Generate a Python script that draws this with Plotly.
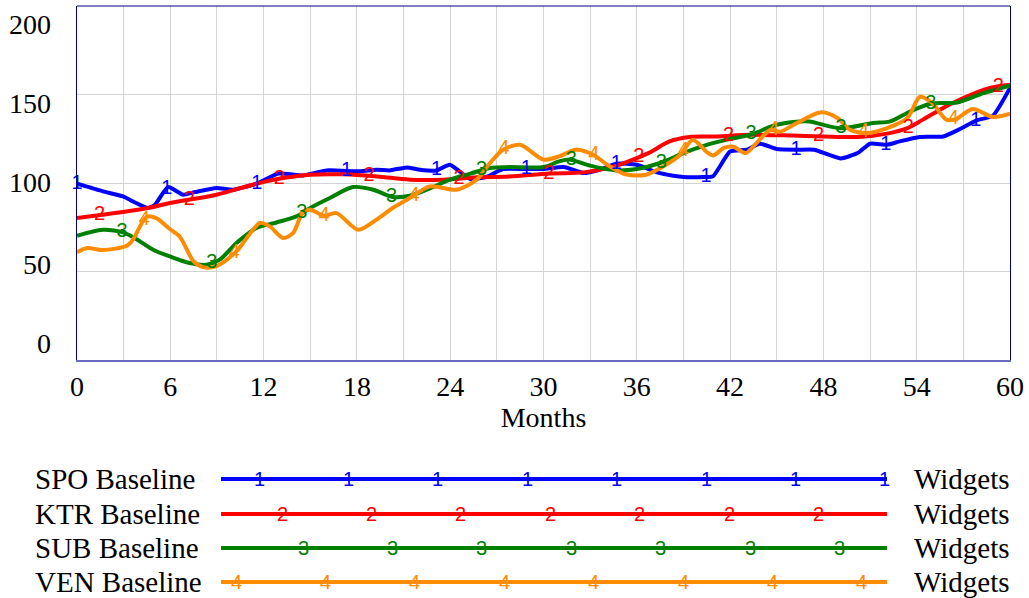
import numpy as np
import plotly.graph_objects as go

# ---------------- data ----------------
spo_months = [0, 1.67, 2.96, 3.8, 4.57, 5.0, 5.86, 6.82, 7.6, 8.97, 10.04, 11.54, 12.94, 14.55,
              16.05, 18.19, 19.26, 20.1, 21.2, 22.05, 23.1, 23.98, 24.6, 25.27, 26.3, 27.4, 28.9,
              30.0, 31.3, 32.6, 33.6, 34.7, 36.0, 37.3, 38.35, 39.0, 40.3, 40.9, 42.0, 43.07,
              43.9, 45.0, 46.3, 47.4, 49.1, 50.2, 51.0, 52.1, 52.9, 54.2, 55.7, 56.6, 57.85, 58.9, 60]
spo_values = [99.6, 95.3, 92.4, 88.7, 85.9, 87.6, 97.7, 93.4, 94.9, 97.2, 96.2, 99.6, 105.3, 104.3,
              107.1, 106.6, 107.5, 107.1, 108.8, 107.5, 107.1, 110.3, 106.6, 102.3, 103.4, 107.9, 107.9,
              107.9, 109.0, 105.6, 107.5, 110.9, 110.3, 106.0, 104.1, 103.4, 103.4, 103.8, 117.8, 118.8,
              122.2, 119.2, 118.8, 118.8, 113.9, 116.9, 122.2, 121.6, 123.5, 126.0, 126.3, 129.7, 135.4, 138.0, 153.7]

ktr_months = [0, 4.57, 5.97, 8.97, 11.54, 13.26, 15.0, 17.1, 19.3, 21.4, 23.55, 25.7, 27.8, 30.4,
              32.6, 34.7, 36.0, 36.85, 38.1, 39.4, 41.15, 43.3, 46.0, 48.0, 50.2, 52.1, 53.4, 54.4,
              55.7, 57.0, 58.7, 60]
ktr_values = [80.2, 85.9, 88.7, 93.4, 99.6, 102.8, 104.7, 104.9, 103.7, 101.9, 101.9, 103.2, 103.7, 105.4,
              106.0, 109.8, 114.1, 117.3, 123.5, 126.0, 126.3, 127.2, 126.8, 126.3, 126.0, 127.9, 131.0, 135.8,
              142.4, 148.0, 153.7, 155.5]

sub_months = [0, 1.67, 2.96, 3.8, 4.9, 5.97, 7.25, 8.33, 9.18, 10.26, 11.54, 12.83, 14.1, 15.0,
              16.26, 17.76, 19.05, 20.3, 21.4, 22.5, 24.0, 25.3, 26.56, 27.8, 30.0, 31.0, 31.7, 33.0,
              34.7, 36.0, 37.5, 39.0, 40.3, 41.8, 43.3, 45.0, 46.5, 47.1, 49.1, 51.2, 52.3, 53.6,
              54.9, 56.6, 58.3, 60]
sub_values = [70.2, 73.6, 72.1, 68.4, 62.3, 58.5, 54.8, 53.8, 56.7, 66.1, 74.6, 77.7, 81.1, 85.9,
              91.5, 97.7, 96.2, 92.1, 92.8, 96.2, 101.9, 105.3, 108.5, 109.0, 109.0, 112.2, 113.2, 109.8,
              107.1, 107.9, 111.3, 116.9, 121.0, 124.5, 127.3, 132.9, 134.8, 134.8, 131.0, 133.9, 134.8, 140.5,
              144.8, 145.5, 150.8, 155.0]

ven_months = [0, 0.64, 1.67, 3.2, 3.6, 4.46, 5.1, 5.97, 6.6, 7.5, 8.1, 8.97, 10.26, 11.76, 12.4,
              13.26, 13.9, 14.55, 15.0, 15.9, 16.69, 18.08, 19.26, 20.3, 21.4, 22.7, 24.4, 25.7, 26.56,
              27.4, 28.5, 30.0, 31.0, 32.1, 33.2, 34.1, 35.35, 36.6, 37.7, 38.8, 39.6, 40.5, 40.9, 41.6,
              42.2, 43.0, 43.7, 44.6, 45.2, 46.3, 47.8, 48.9, 49.7, 50.8, 52.1, 53.4, 54.2, 55.0, 55.9,
              56.5, 57.6, 58.9, 60]
ven_values = [60.8, 63.3, 62.1, 64.6, 68.0, 80.8, 80.2, 74.0, 69.8, 55.7, 52.5, 53.1, 61.4, 77.4, 75.5,
              68.9, 71.8, 84.0, 84.9, 81.5, 83.0, 73.6, 79.3, 85.9, 91.5, 98.1, 96.2, 101.9, 111.3,
              118.8, 121.6, 113.2, 115.0, 118.8, 116.0, 110.3, 104.7, 104.7, 109.4, 116.0, 124.5, 117.5, 115.5, 119.8,
              120.5, 116.9, 122.6, 130.1, 129.0, 133.9, 139.9, 136.7, 130.1, 128.2, 131.0, 136.7, 148.6, 145.2, 135.8,
              136.0, 141.8, 137.3, 139.2]

series_names = ["SPO Baseline", "KTR Baseline", "SUB Baseline", "VEN Baseline"]
series_units = ["Widgets", "Widgets", "Widgets", "Widgets"]
series_tags = ["1", "2", "3", "4"]
x_ticks = [0, 6, 12, 18, 24, 30, 36, 42, 48, 54, 60]
y_ticks = [0, 50, 100, 150, 200]

# ---------------- styles ----------------
colors = ["#0000ff", "#ff0000", "#008000", "#ff8c00"]
SERIF = "Liberation Serif"
SANS = "Liberation Sans"
W, H = 1029, 598
PL, PR, PT, PB = 77, 1010, 6, 360

def pxx(p):
    return (p - PL) / (PR - PL)

def pxy(p):
    return (PB - p) / (PB - PT)

fig = go.Figure()

data = [(spo_months, spo_values), (ktr_months, ktr_values),
        (sub_months, sub_values), (ven_months, ven_values)]
smooth = [0.5, 0.9, 0.9, 0.8]
for i, (mx, vy) in enumerate(data):
    fig.add_trace(go.Scatter(x=mx, y=vy, mode="lines", name=series_names[i],
                             line=dict(color=colors[i], width=4, shape="spline", smoothing=smooth[i]),
                             showlegend=False, hoverinfo="skip"))

# numeric tags along the lines (Vensim-style)
spacing = 5.78
for i, (mx, vy) in enumerate(data):
    start = i * 1.445
    pos = []
    k = 0
    while start + k * spacing <= 60:
        pos.append(start + k * spacing)
        k += 1
    fig.add_trace(go.Scatter(x=pos, y=np.interp(pos, mx, vy), mode="text",
                             text=[series_tags[i]] * len(pos), textposition="middle center",
                             textfont=dict(family=SANS, size=20, color=colors[i]),
                             cliponaxis=False, showlegend=False, hoverinfo="skip"))

annotations = []
# y tick labels (Vensim spaces them evenly inside the frame)
yshifts = [17, 7, 1, -9, -18]
for v, s in zip(y_ticks, yshifts):
    annotations.append(dict(x=0, xref="paper", xanchor="right", xshift=-24,
                            y=v, yref="y", yshift=s, yanchor="middle",
                            text=str(v), showarrow=False,
                            font=dict(family=SERIF, size=28, color="black")))

# custom legend below
legend_rows = [479, 514, 548, 582]
line_x0, line_x1 = 221, 887
tag_start = [259, 282, 303, 236]
tag_count = [8, 7, 7, 8]
tag_step = 89.4
shapes = [dict(type="line", xref="paper", yref="paper", x0=0, x1=1, y0=1, y1=1,
               line=dict(color="#000080", width=1))]
for i in range(4):
    yr = pxy(legend_rows[i])
    shapes.append(dict(type="line", xref="paper", yref="paper",
                       x0=pxx(line_x0), x1=pxx(line_x1), y0=yr, y1=yr,
                       line=dict(color=colors[i], width=4)))
    annotations.append(dict(x=pxx(33), xref="paper", xanchor="left", y=yr, yref="paper",
                            yanchor="middle", text=series_names[i], showarrow=False,
                            font=dict(family=SERIF, size=29, color="black")))
    annotations.append(dict(x=pxx(912), xref="paper", xanchor="left", y=yr, yref="paper",
                            yanchor="middle", text=series_units[i], showarrow=False,
                            font=dict(family=SERIF, size=29, color="black")))
    for k in range(tag_count[i]):
        annotations.append(dict(x=pxx(tag_start[i] + k * tag_step), xref="paper", xanchor="center",
                                y=yr, yref="paper", yanchor="middle", text=series_tags[i],
                                showarrow=False, font=dict(family=SANS, size=20, color=colors[i])))

fig.update_layout(
    width=W, height=H,
    margin=dict(l=PL, r=W - PR, t=PT, b=H - PB),
    paper_bgcolor="white", plot_bgcolor="white",
    showlegend=False,
    shapes=shapes, annotations=annotations,
    xaxis=dict(range=[0, 60], tickvals=x_ticks, ticktext=[str(t) for t in x_ticks],
               showgrid=True, gridcolor="#d3d3d3", gridwidth=1,
               minor=dict(dtick=3, tick0=0, showgrid=True, gridcolor="#d3d3d3", gridwidth=1),
               zeroline=False, showline=True, linecolor="#6b6bc4", linewidth=2,
               ticks="", ticklen=0, ticklabelstandoff=0,
               tickfont=dict(family=SERIF, size=28, color="black"),
               title=dict(text="Months", font=dict(family=SERIF, size=28, color="black"), standoff=6)),
    yaxis=dict(range=[0, 200], tickvals=y_ticks, showticklabels=False,
               showgrid=True, gridcolor="#d3d3d3", gridwidth=1,
               zeroline=False, showline=True, linecolor="#000080", linewidth=1, mirror=True,
               ticks=""),
)

fig.write_html("out.html", config={"displayModeBar": False},
               post_script="document.body.style.margin='0';document.body.style.padding='0';document.body.style.overflow='hidden';")
